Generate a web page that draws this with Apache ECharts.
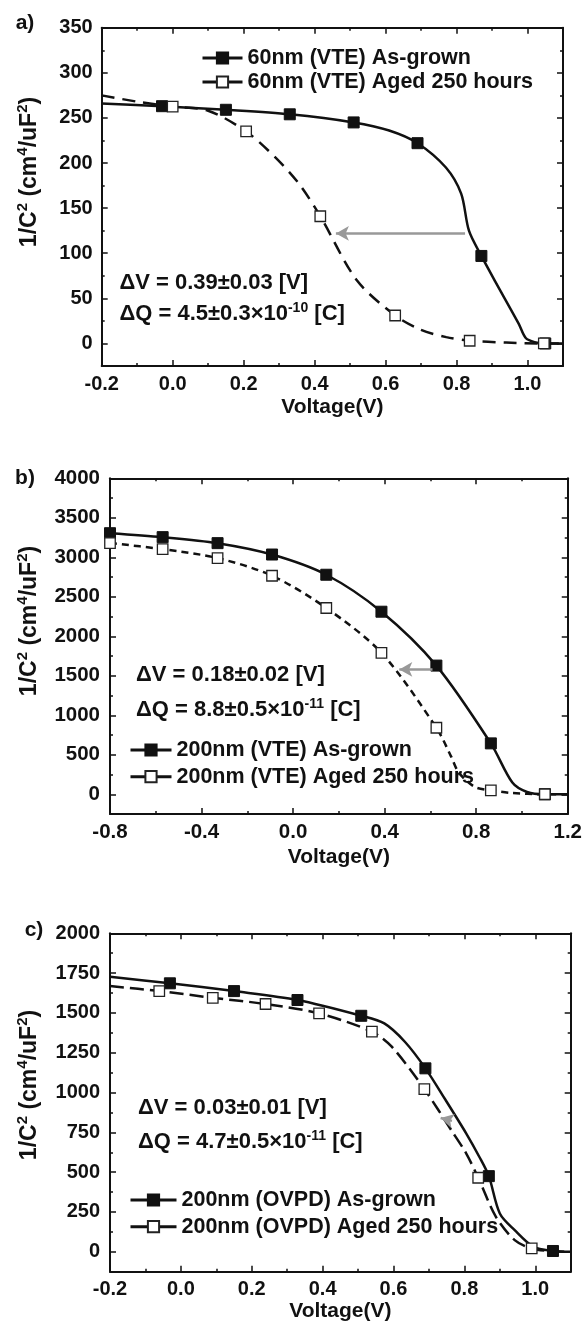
<!DOCTYPE html>
<html><head><meta charset="utf-8">
<script src="https://cdn.jsdelivr.net/npm/echarts@6/dist/echarts.min.js"></script>
<style>html,body{margin:0;padding:0;background:#fff}#c{width:585px;height:1328px}</style>
</head><body><div id="c"></div>
<script>
// ---------- Panel a ----------
const aGrownName = '60nm (VTE) As-grown';
const aAgedName = '60nm (VTE) Aged 250 hours';
const aGrownMarkers = [[-0.03,263],[0.15,259],[0.33,254],[0.51,245],[0.69,222],[0.87,97],[1.05,0]];
const aGrownLine = [[-0.2,266],[0.61,236],[0.77,195],[0.813,166],[0.835,125],[0.91,68],[0.975,22],[0.995,6],[1.02,1.5],[1.1,0]];
const aAgedMarkers = [[0.0,262.5],[0.207,235],[0.416,141],[0.627,31],[0.837,3],[1.046,0]];
const aAgedLine = [[-0.2,275],[-0.1,268],[0.1,258],[0.29,206],[0.356,177],[0.519,70],[0.7,15],[0.771,7],[0.94,1],[1.1,0]];
const aArrow = [[0.824,122],[0.46,122]];
const aXTicks = [-0.2,0,0.2,0.4,0.6,0.8,1.0];
const aXMinor = [-0.1,0.1,0.3,0.5,0.7,0.9];
const aYTicks = [0,50,100,150,200,250,300,350];
const aYMinor = [25,75,125,175,225,275,325];
const aNotes = ['ΔV = 0.39±0.03 [V]', 'ΔQ = 4.5±0.3×10', '-10', ' [C]'];

// ---------- Panel b ----------
const bGrownName = '200nm (VTE) As-grown';
const bAgedName = '200nm (VTE) Aged 250 hours';
const bGrownMarkers = [[-0.8,3305],[-0.57,3255],[-0.33,3179],[-0.092,3035],[0.145,2779],[0.386,2311],[0.626,1629],[0.864,644],[1.10,0]];
const bGrownLine = [[0.958,148],[1.022,29],[1.2,0]];
const bAgedMarkers = [[-0.8,3180],[-0.57,3103],[-0.33,2990],[-0.092,2766],[0.145,2358],[0.386,1790],[0.626,842],[0.864,50],[1.10,0]];
const bAgedLine = [[0.69,480],[0.72,290],[0.76,165],[0.80,85],[0.95,18],[1.2,0]];
const bArrow = [[0.609,1580],[0.464,1580]];
const bXTicks = [-0.8,-0.4,0,0.4,0.8,1.2];
const bXMinor = [-0.6,-0.2,0.2,0.6,1.0];
const bYTicks = [0,500,1000,1500,2000,2500,3000,3500,4000];
const bYMinor = [250,750,1250,1750,2250,2750,3250,3750];
const bNotes = ['ΔV = 0.18±0.02 [V]', 'ΔQ = 8.8±0.5×10', '-11', ' [C]'];

// ---------- Panel c ----------
const cGrownName = '200nm (OVPD) As-grown';
const cAgedName = '200nm (OVPD) Aged 250 hours';
const cGrownMarkers = [[-0.031,1686],[0.15,1637],[0.329,1581],[0.509,1482],[0.69,1152],[0.869,475],[1.05,5]];
const cGrownLine = [[-0.2,1727],[0.574,1434],[0.632,1319],[0.747,953],[0.805,744],[0.842,597],[0.90,241],[0.942,136],[0.995,31],[1.1,0]];
const cAgedMarkers = [[-0.061,1637],[0.09,1595],[0.239,1556],[0.39,1497],[0.539,1382],[0.687,1022],[0.839,465],[0.99,21]];
const cAgedLine = [[-0.2,1669],[0.595,1288],[0.763,764],[0.805,618],[0.889,220],[0.942,73],[1.05,3],[1.1,0]];
const cArrow = [[0.765,822],[0.733,840]];
const cXTicks = [-0.2,0,0.2,0.4,0.6,0.8,1.0];
const cXMinor = [-0.1,0.1,0.3,0.5,0.7,0.9];
const cYTicks = [0,250,500,750,1000,1250,1500,1750,2000];
const cYMinor = [125,375,625,875,1125,1375,1625,1875];
const cNotes = ['ΔV = 0.03±0.01 [V]', 'ΔQ = 4.7±0.5×10', '-11', ' [C]'];

const yTitle = ['1/C','2',' (cm','4','/uF','2',')'];

// ---------- build ----------
const FONT = '"Liberation Sans", Arial, Helvetica, sans-serif';
const INK = '#111';
const FS = 20;      // tick labels
const LFS = 21.5;   // legend
const NFS = 22;     // notes

function xAxes(g, min, max, majors, minors, nameGap, fs) {
  const base = {type:'value', gridIndex:g, min:min, max:max, splitLine:{show:false}};
  const line = {show:true, onZero:false, lineStyle:{color:INK, width:2}};
  const tMaj = {show:true, inside:true, length:6, customValues:majors, lineStyle:{color:INK, width:1.5}};
  const tMin = {show:true, inside:true, length:3, customValues:minors, lineStyle:{color:INK, width:1.5}};
  return [
    Object.assign({}, base, {position:'bottom', axisLine:line, axisTick:tMaj,
      axisLabel:{show:true, customValues:majors, margin:8, formatter:v=>Number(v).toFixed(1),
        color:INK, fontSize:fs, fontWeight:'bold', fontFamily:FONT},
      name:'Voltage(V)', nameLocation:'middle', nameGap:nameGap,
      nameTextStyle:{color:INK, fontSize:21, fontWeight:'bold', fontFamily:FONT}}),
    Object.assign({}, base, {position:'top', axisLine:line, axisTick:tMaj, axisLabel:{show:false}}),
    Object.assign({}, base, {position:'bottom', axisLine:{show:false, onZero:false}, axisTick:tMin, axisLabel:{show:false}}),
    Object.assign({}, base, {position:'top', axisLine:{show:false, onZero:false}, axisTick:tMin, axisLabel:{show:false}})
  ];
}
function yAxes(g, min, max, majors, minors, margin, fs) {
  const base = {type:'value', gridIndex:g, min:min, max:max, splitLine:{show:false}};
  const line = {show:true, onZero:false, lineStyle:{color:INK, width:2}};
  const tMaj = {show:true, inside:true, length:6, customValues:majors, lineStyle:{color:INK, width:1.5}};
  const tMin = {show:true, inside:true, length:3, customValues:minors, lineStyle:{color:INK, width:1.5}};
  return [
    Object.assign({}, base, {position:'left', axisLine:line, axisTick:tMaj,
      axisLabel:{show:true, customValues:majors, margin:margin, formatter:v=>String(v),
        color:INK, fontSize:fs, fontWeight:'bold', fontFamily:FONT}}),
    Object.assign({}, base, {position:'right', axisLine:line, axisTick:tMaj, axisLabel:{show:false}}),
    Object.assign({}, base, {position:'left', axisLine:{show:false, onZero:false}, axisTick:tMin, axisLabel:{show:false}}),
    Object.assign({}, base, {position:'right', axisLine:{show:false, onZero:false}, axisTick:tMin, axisLabel:{show:false}})
  ];
}
function mkSeries(name, axisIdx, markers, line, filled, dash, arrow) {
  const pts = markers.map(p => ({value:p}))
    .concat(line.map(p => ({value:p, symbol:'none'})));
  pts.sort((a,b) => a.value[0] - b.value[0]);
  const s = {
    type:'line', name:name, xAxisIndex:axisIdx, yAxisIndex:axisIdx, data:pts,
    smooth:0.3, symbol:'rect', symbolSize:filled ? 11 : 10.5,
    showAllSymbol:true, clip:true,
    lineStyle:{color:INK, width:2.5, type:dash || 'solid'},
    itemStyle: filled ? {color:INK, borderColor:INK, borderWidth:1}
                      : {color:'#fff', borderColor:'#222', borderWidth:1.3},
    emphasis:{disabled:true}, z: filled ? 3 : 4
  };
  if (arrow) {
    s.markLine = {silent:true, symbol:['none','arrow'], symbolSize:[11,13],
      lineStyle:{color:'#999', width:2.5, type:'solid'}, label:{show:false},
      emphasis:{disabled:true},
      data:[[{coord:arrow[0]},{coord:arrow[1]}]]};
  }
  return s;
}
function legendAt(names, left, top, w, gap) {
  return {orient:'vertical', left:left, top:top, padding:0, itemWidth:w, itemHeight:14, itemGap:gap,
    selectedMode:false, data:names, lineStyle:{type:'solid', width:3},
    textStyle:{color:INK, fontSize:LFS, fontWeight:'bold', fontFamily:FONT, lineHeight:22}};
}
const richN = {fontSize:NFS, fontWeight:'bold', fontFamily:FONT, fill:INK, lineHeight:26};
const richS = {fontSize:14, fontWeight:'bold', fontFamily:FONT, fill:INK, verticalAlign:'top', lineHeight:15};
function notes(n, x, y1, y2) {
  return [
    {type:'text', x:x, y:y1, style:{text:n[0], fill:INK, font:'bold '+NFS+'px '+FONT, align:'left', verticalAlign:'middle'}},
    {type:'text', x:x, y:y2, style:{text:'{n|'+n[1]+'}{s|'+n[2]+'}{n|'+n[3]+'}', rich:{n:richN, s:richS},
      align:'left', verticalAlign:'middle'}}
  ];
}
function ytitle(x, y) {
  const tn = {fontSize:23, fontWeight:'bold', fontFamily:FONT, fill:INK, lineHeight:29};
  const ts = {fontSize:15, fontWeight:'bold', fontFamily:FONT, fill:INK, verticalAlign:'top', lineHeight:16};
  const t = yTitle.map((s,i) => (i % 2 === 0 ? '{n|' : '{s|') + s + '}').join('');
  return {type:'text', x:x, y:y, rotation:Math.PI/2,
    style:{text:t, rich:{n:tn, s:ts}, align:'center', verticalAlign:'middle'}};
}
function plabel(t, x, y) {
  return {type:'text', x:x, y:y, style:{text:t, fill:INK, font:'bold 21px '+FONT, align:'center', verticalAlign:'middle'}};
}

const option = {
  animation:false,
  backgroundColor:'#fff',
  grid:[
    {left:101.7, top:27.7, width:461.3, height:338.3},
    {left:110, top:478.3, width:458.8, height:335.7},
    {left:110, top:933.3, width:460.7, height:338.4}
  ],
  xAxis: [].concat(
    xAxes(0, -0.2, 1.1, aXTicks, aXMinor, 31, FS),
    xAxes(1, -0.8, 1.2, bXTicks, bXMinor, 33, 20.5),
    xAxes(2, -0.2, 1.1, cXTicks, cXMinor, 28, FS)
  ),
  yAxis: [].concat(
    yAxes(0, -25, 350, aYTicks, aYMinor, 9, FS),
    yAxes(1, -250, 4000, bYTicks, bYMinor, 10, 20.5),
    yAxes(2, -125, 2000, cYTicks, cYMinor, 10, FS)
  ),
  legend:[
    legendAt([aGrownName, aAgedName], 201, 47, 40, 2),
    legendAt([bGrownName, bAgedName], 129, 739, 41, 4.7),
    legendAt([cGrownName, cAgedName], 129, 1189, 46, 4.7)
  ],
  series:[
    mkSeries(aGrownName, 0, aGrownMarkers, aGrownLine, true, 'solid', aArrow),
    mkSeries(aAgedName, 0, aAgedMarkers, aAgedLine, false, [13,8]),
    mkSeries(bGrownName, 4, bGrownMarkers, bGrownLine, true, 'solid', bArrow),
    mkSeries(bAgedName, 4, bAgedMarkers, bAgedLine, false, [7,5]),
    mkSeries(cGrownName, 8, cGrownMarkers, cGrownLine, true, 'solid', cArrow),
    mkSeries(cAgedName, 8, cAgedMarkers, cAgedLine, false, [14,6])
  ],
  graphic:[].concat(
    notes(aNotes, 119.4, 283.3, 314),
    notes(bNotes, 136, 675, 710),
    notes(cNotes, 138, 1108.3, 1141.7),
    [ytitle(30, 172), ytitle(30, 621), ytitle(30, 1085),
     plabel('a)', 25, 23), plabel('b)', 25, 478), plabel('c)', 34, 930)]
  )
};
const chart = echarts.init(document.getElementById('c'), null, {renderer:'canvas'});
chart.setOption(option);
</script>
</body></html>
